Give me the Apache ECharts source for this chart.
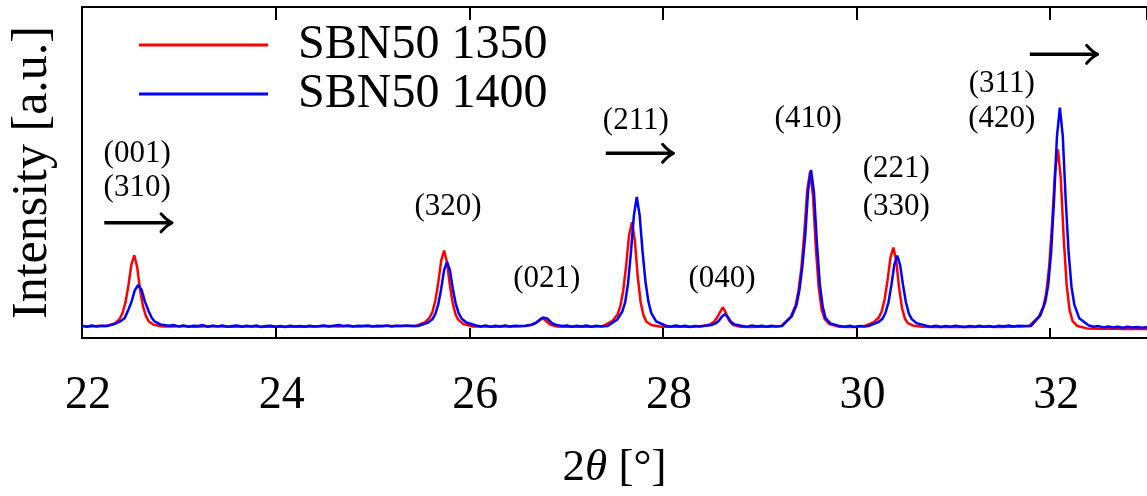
<!DOCTYPE html>
<html>
<head>
<meta charset="utf-8">
<script src="https://cdn.jsdelivr.net/npm/echarts@6/dist/echarts.min.js"></script>
<style>html,body{margin:0;padding:0;background:#fff;}#c{width:1147px;height:496px;}</style>
</head>
<body>
<div id="c"></div>
<script>
// ---- data (2θ in degrees, intensity in arbitrary units 0..100) ----
const seriesNames = ['SBN50 1350', 'SBN50 1400'];

const redX = [22.00,22.08,22.16,
 22.24,22.34,22.39,22.42,22.45,22.48,22.51,22.54,22.57,22.60,22.63,22.66,22.69,22.74,22.84,
 22.95,23.05,23.15,23.25,23.35,23.45,23.55,23.65,23.75,23.85,23.95,24.05,24.15,24.25,24.35,24.45,24.55,24.65,24.75,24.85,24.95,25.05,25.15,25.25,25.35,
 25.44,25.54,25.59,25.62,25.65,25.68,25.71,25.74,25.77,25.80,25.83,25.86,25.89,25.94,26.04,
 26.15,26.25,26.35,26.45,
 26.58,26.64,26.68,26.72,26.76,26.80,26.84,26.90,
 27.00,27.10,27.20,27.30,
 27.38,27.48,27.53,27.56,27.59,27.62,27.65,27.68,27.71,27.74,27.77,27.80,27.83,27.88,27.98,
 28.10,28.20,28.30,
 28.40,28.48,28.53,28.56,28.59,28.62,28.65,28.68,28.72,28.80,
 28.90,29.00,29.10,
 29.22,29.32,29.37,29.40,29.43,29.46,29.49,29.52,29.55,29.58,29.61,29.64,29.67,29.72,29.82,
 29.92,30.00,
 30.08,30.18,30.23,30.26,30.29,30.32,30.35,30.38,30.41,30.44,30.47,30.50,30.53,30.58,30.68,
 30.78,30.88,30.98,31.08,31.18,31.28,31.38,31.48,31.58,31.68,
 31.78,31.88,31.93,31.96,31.99,32.02,32.05,32.08,32.11,32.14,32.17,32.20,32.23,32.28,32.38,
 32.50,32.62,32.74,32.86,33.00];
const redY = [3.6,3.5,3.6,
 3.6,4.4,5.8,7.7,10.9,16.0,22.2,25.0,21.4,14.6,9.6,6.6,5.0,4.0,3.5,
 3.5,3.6,3.4,3.5,3.6,3.5,3.4,3.5,3.5,3.4,3.5,3.4,3.5,3.4,3.5,3.5,3.6,3.5,3.6,3.5,3.6,3.5,3.6,3.6,3.6,
 3.6,4.7,6.1,7.9,11.4,16.8,23.4,26.4,22.8,15.8,10.4,7.0,5.4,4.2,3.5,
 3.5,3.4,3.5,3.5,
 3.6,3.9,4.4,5.2,6.0,5.0,4.0,3.5,
 3.4,3.5,3.4,3.5,
 3.6,5.2,7.0,9.6,14.3,21.8,30.9,35.0,29.5,18.5,10.8,6.8,4.9,3.9,3.4,
 3.4,3.5,3.4,
 3.6,4.0,5.0,6.2,7.8,9.3,7.6,5.4,4.0,3.4,
 3.3,3.4,3.4,
 3.6,6.4,9.8,14.2,21.2,31.5,44.5,50.3,43.0,27.0,15.0,8.5,5.8,4.2,3.4,
 3.3,3.4,
 3.6,4.8,6.2,8.1,11.7,17.4,24.2,27.3,23.4,15.0,9.0,5.8,4.5,3.8,3.4,
 3.3,3.4,3.3,3.4,3.3,3.4,3.4,3.3,3.4,3.5,
 3.6,6.3,9.5,13.8,21.8,34.7,50.2,57.0,48.0,30.0,16.0,8.5,5.2,3.6,2.9,
 2.8,2.9,2.7,2.8,2.7];

const blueX = [22.00,22.05,22.10,22.15,22.20,
 22.26,22.35,22.40,22.44,22.47,22.51,22.545,22.58,22.615,22.65,22.69,22.72,22.75,22.81,22.90,
 22.95,23.00,23.05,23.10,23.15,23.20,23.25,23.30,23.35,23.40,23.45,23.50,23.55,23.60,23.65,23.70,23.75,23.80,23.85,23.90,23.95,24.00,24.05,24.10,24.15,24.20,24.25,24.30,24.35,24.40,24.45,24.50,24.55,24.60,24.65,24.70,24.75,24.80,24.85,24.90,24.95,25.00,25.05,25.10,25.15,25.20,25.25,25.30,25.35,25.40,
 25.47,25.57,25.62,25.65,25.68,25.71,25.74,25.77,25.80,25.83,25.86,25.89,25.92,25.97,26.07,
 26.12,26.17,26.22,26.27,26.32,26.37,26.42,26.47,26.52,
 26.58,26.64,26.69,26.73,26.76,26.78,26.81,26.85,26.90,26.96,
 27.01,27.06,27.11,27.16,27.21,27.26,27.31,27.36,
 27.43,27.53,27.58,27.61,27.64,27.67,27.70,27.73,27.76,27.79,27.82,27.85,27.88,27.93,28.03,
 28.08,28.13,28.18,28.23,28.28,28.33,28.38,
 28.42,28.50,28.55,28.58,28.61,28.64,28.67,28.70,28.74,28.82,
 28.87,28.92,28.97,29.02,29.07,29.12,29.17,
 29.23,29.33,29.38,29.41,29.44,29.47,29.50,29.53,29.56,29.59,29.62,29.65,29.68,29.73,29.83,
 29.88,29.93,29.98,30.03,30.08,
 30.12,30.22,30.27,30.30,30.33,30.36,30.39,30.42,30.45,30.48,30.51,30.54,30.57,30.62,30.72,
 30.77,30.82,30.87,30.92,30.97,31.02,31.07,31.12,31.17,31.22,31.27,31.32,31.37,31.42,31.47,31.52,31.57,31.62,31.67,31.72,
 31.80,31.90,31.95,31.98,32.01,32.04,32.07,32.10,32.13,32.16,32.19,32.22,32.25,32.30,32.40,
 32.45,32.50,32.55,32.60,32.65,32.70,32.75,32.80,32.85,32.90,32.95,33.00];
const blueY = [3.7,3.4,3.8,3.5,3.7,
 3.6,4.4,5.1,6.0,7.9,10.8,14.4,16.0,14.6,11.0,8.0,6.1,5.0,4.1,3.7,
 3.9,3.5,3.8,3.4,3.7,3.6,3.9,3.4,3.7,3.5,3.8,3.4,3.6,3.8,3.4,3.7,3.5,3.8,3.3,3.6,3.7,3.4,3.6,3.3,3.7,3.5,3.6,3.4,3.7,3.5,3.6,3.8,3.5,3.7,3.9,3.6,3.8,3.5,3.7,3.6,3.8,3.5,3.7,3.6,3.8,3.5,3.7,3.6,3.8,3.6,
 3.6,4.6,5.7,7.3,10.2,14.9,20.5,23.0,20.5,14.9,10.4,7.5,5.9,4.7,3.8,
 3.5,3.8,3.4,3.7,3.5,3.8,3.5,3.7,3.6,
 3.7,4.0,4.6,5.6,6.2,6.4,5.8,4.6,3.9,3.6,
 3.8,3.4,3.7,3.5,3.8,3.4,3.7,3.5,
 3.6,5.6,8.0,10.8,16.5,26.0,37.0,42.6,37.0,26.0,17.0,11.0,7.5,5.0,3.7,
 3.4,3.8,3.5,3.7,3.3,3.6,3.5,
 3.6,3.9,4.5,5.3,6.5,7.2,6.4,5.0,4.1,3.6,
 3.4,3.8,3.5,3.7,3.4,3.7,3.5,
 3.6,6.5,10.0,14.5,21.5,31.0,44.7,50.8,44.0,29.0,16.5,9.5,6.0,4.4,3.6,
 3.4,3.7,3.3,3.6,3.5,
 3.6,4.7,5.9,7.7,10.8,16.0,22.1,24.9,22.1,16.0,10.8,7.4,5.7,4.5,3.7,
 3.4,3.7,3.3,3.6,3.4,3.7,3.5,3.3,3.6,3.4,3.7,3.4,3.6,3.3,3.7,3.5,3.8,3.5,3.7,3.6,
 3.6,6.9,10.9,16.1,26.0,41.9,61.0,69.6,61.0,41.9,26.0,15.5,10.0,6.0,3.8,
 3.4,3.6,3.2,3.5,3.2,3.4,3.1,3.4,3.2,3.3,3.1,3.3];

// Miller-index annotations (data coordinates)
const peakLabels = ['(001)','(310)','(320)','(021)','(211)','(040)','(410)','(221)','(330)','(311)','(420)'];
const peakLabelX = [22.57,22.57,25.78,26.80,27.72,28.61,29.50,30.41,30.41,31.50,31.50];
const peakLabelY = [55.6,45.3,39.5,18.0,65.7,18.0,66.3,51.0,39.5,76.9,66.3];

// shift arrows (data coordinates): start x, end x, height
const arrowX1 = [22.23, 27.41, 31.79];
const arrowX2 = [22.93, 28.11, 32.49];
const arrowY  = [34.8, 55.8, 85.7];

// x axis ticks
const xMin = 22, xMax = 33, xStep = 2;

const FONT = "'Liberation Serif', 'DejaVu Serif', serif";
const zip = (xs, ys) => xs.map((x, i) => [x, ys[i]]);

const chart = echarts.init(document.getElementById('c'), null, {renderer: 'canvas'});
chart.setOption({
  animation: false,
  backgroundColor: '#fff',
  grid: {left: 80, top: 7, width: 1072, height: 348, containLabel: false},
  legend: {
    orient: 'vertical', left: 139, top: 21, padding: 0,
    itemWidth: 129, itemHeight: 3, itemGap: 1, icon: 'rect',
    data: seriesNames,
    textStyle: {fontFamily: FONT, fontSize: 48, color: '#000', padding: [0, 0, 0, 25]}
  },
  xAxis: [{
    type: 'value', position: 'bottom', min: xMin, max: xMax, interval: xStep,
    axisLine: {show: true, onZero: false, lineStyle: {color: '#000', width: 2}},
    axisTick: {show: true, inside: true, length: 10, lineStyle: {color: '#000', width: 2}},
    axisLabel: {show: true, showMaxLabel: false, margin: 35, fontFamily: FONT, fontSize: 46, color: '#000', padding: [0, 0, 0, 12]},
    splitLine: {show: false},
    name: '{n|2}{i|θ}{n| [°]}', nameLocation: 'middle', nameGap: 108,
    nameTextStyle: {fontFamily: FONT, fontSize: 45, color: '#000',
      rich: {n: {fontFamily: FONT, fontSize: 45, color: '#000'}, i: {fontFamily: FONT, fontSize: 45, fontStyle: 'italic', color: '#000'}}}
  }, {
    type: 'value', position: 'top', min: xMin, max: xMax, interval: xStep,
    axisLine: {show: true, onZero: false, lineStyle: {color: '#000', width: 2}},
    axisTick: {show: true, inside: true, length: 13, lineStyle: {color: '#000', width: 2}},
    axisLabel: {show: false}, splitLine: {show: false}
  }],
  yAxis: {
    type: 'value', min: 0, max: 100,
    axisLine: {show: true, onZero: false, lineStyle: {color: '#000', width: 2}},
    axisTick: {show: false}, axisLabel: {show: false}, splitLine: {show: false},
    name: 'Intensity [a.u.]', nameLocation: 'middle', nameGap: 24,
    nameTextStyle: {fontFamily: FONT, fontSize: 50, color: '#000'}
  },
  series: [
    {name: seriesNames[0], type: 'line', data: zip(redX, redY), showSymbol: false, symbol: 'none',
     lineStyle: {color: '#ff0000', width: 2.5}, itemStyle: {color: '#ff0000'}, z: 2},
    {name: seriesNames[1], type: 'line', data: zip(blueX, blueY), showSymbol: false, symbol: 'none',
     lineStyle: {color: '#0000ff', width: 2.5}, itemStyle: {color: '#0000ff'}, z: 3},
    {type: 'custom', silent: true, z: 4, clip: false,
     data: peakLabels.map((t, i) => [peakLabelX[i], peakLabelY[i], t]),
     encode: {x: 0, y: 1},
     renderItem: function (params, api) {
       const p = api.coord([api.value(0), api.value(1)]);
       return {type: 'text', x: p[0], y: p[1],
         style: {text: peakLabels[params.dataIndex], fill: '#000', font: "31px " + FONT,
                 align: 'center', verticalAlign: 'middle'}};
     }},
    {type: 'custom', silent: true, z: 4, clip: false,
     data: arrowX1.map((x, i) => [x, arrowX2[i], arrowY[i]]),
     encode: {x: [0, 1], y: 2},
     renderItem: function (params, api) {
       const p1 = api.coord([api.value(0), api.value(2)]);
       const p2 = api.coord([api.value(1), api.value(2)]);
       const x = p2[0], y = p2[1];
       return {type: 'group', children: [
         {type: 'line', shape: {x1: p1[0], y1: y, x2: x - 1, y2: y}, style: {stroke: '#000', lineWidth: 3.5}},
         {type: 'path', shape: {pathData: 'M' + (x - 11) + ',' + (y - 9) + ' Q' + (x - 5) + ',' + (y - 2) + ' ' + x + ',' + y +
             ' Q' + (x - 5) + ',' + (y + 2) + ' ' + (x - 11) + ',' + (y + 9)},
          style: {stroke: '#000', fill: null, lineWidth: 3, lineCap: 'round', lineJoin: 'round'}}
       ]};
     }}
  ]
});
</script>
</body>
</html>
